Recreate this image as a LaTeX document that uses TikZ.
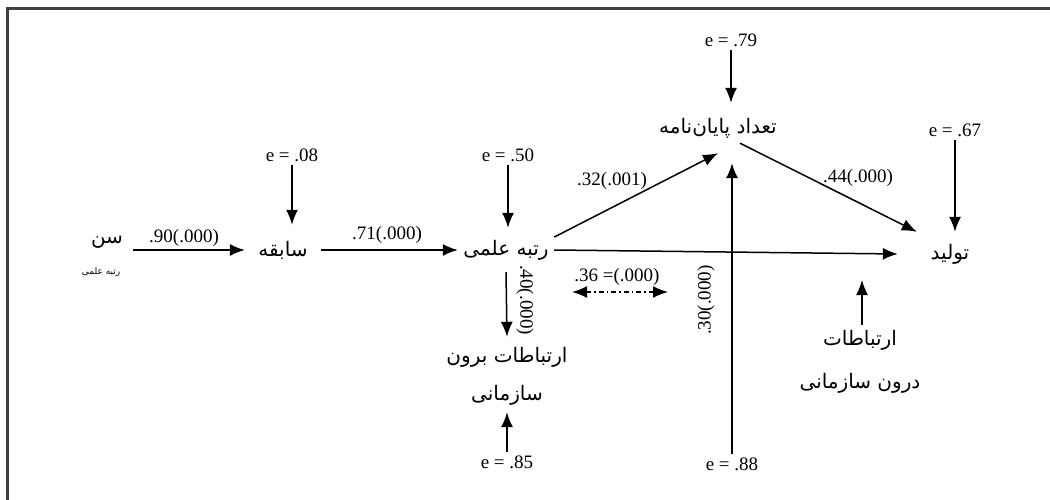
\documentclass[tikz,border=0pt]{standalone}
\usepackage{fontspec}
\setmainfont{Liberation Serif}
\newfontfamily\farsi[Script=Arabic]{DejaVu Sans}
\TeXXeTstate=1
\usetikzlibrary{arrows.meta}

\newcommand{\fa}[1]{\farsi\beginR #1\endR}

\begin{document}
\begin{tikzpicture}[x=1pt,y=-1pt]
\tikzstyle{var}=[inner sep=0pt,font=\fontsize{20}{24}\selectfont];
\tikzstyle{err}=[inner sep=3pt,font=\fontsize{19}{22}\selectfont];
\tikzstyle{coef}=[inner sep=0pt,font=\fontsize{19}{22}\selectfont];
\tikzstyle{arr}=[line width=1.5pt,-{Latex[length=15pt,width=12pt]}];
\useasboundingbox (0,0) rectangle (1050,500);
\draw[line width=3pt,black!75] (1050,9) -- (7,9) -- (7,500);

% variables
\node[var,minimum width=52] (sen) at (107,242) {\fa{سن}};
\node[var,font=\fontsize{9}{11}\selectfont] (senlbl) at (101,272) {\fa{رتبه علمی}};
\node[var,minimum width=76,minimum height=50] (sabeqe) at (283,250) {\fa{سابقه}};
\node[var,minimum width=96,minimum height=44] (rotbe) at (506,250) {\fa{رتبه علمی}};
\node[var,minimum height=50] (tedad) at (718,128) {\fa{تعداد پایان‌نامه}};
\node[var,minimum width=104,minimum height=44] (tolid) at (950,254) {\fa{تولید}};
\node[var,minimum height=40] (boroon1) at (507,357) {\fa{ارتباطات برون}};
\node[var,minimum height=34] (boroon2) at (507,395) {\fa{سازمانی}};
\node[var,minimum height=30] (daroon1) at (860,340) {\fa{ارتباطات}};
\node[var] (daroon2) at (860,383) {\fa{درون سازمانی}};

% errors
\node[err] (e08) at (292,155) {e = .08};
\node[err] (e50) at (508,155) {e = .50};
\node[err] (e79) at (731,40) {e = .79};
\node[err] (e67) at (955,130) {e = .67};
\node[err] (e88) at (732,464) {e = .88};
\node[err] (e85) at (507,462) {e = .85};

% coefficients
\node[coef] (c1) at (184,238) {.90(.000)};
\node[coef] (c2) at (387,235) {.71(.000)};
\node[coef] (c3) at (612,181) {.32(.001)};
\node[coef] (c4) at (858,178) {.44(.000)};
\node[coef] (c5) at (617,277) {.36 =(.000)};
\node[coef,rotate=-90] (c6) at (525,300) {.40(.000)};
\node[coef,rotate=90] (c7) at (706,300) {.30(.000)};

\coordinate (dtip) at (862,280);
\coordinate (cl) at (572,292);
\coordinate (cr) at (668,292);

% paths
\draw[arr] (sen.east |- sabeqe) -- (sabeqe.west);
\draw[arr] (sabeqe.east) -- (rotbe.west);
\draw[arr] (rotbe.15) -- (tedad.south);
\draw[arr] (rotbe.east) -- (tolid.west);
\draw[arr] ([xshift=22pt,yshift=10pt]tedad.south) -- ([xshift=19pt]tolid.north west);
\draw[arr] (e08.south) -- (e08.south |- sabeqe.north);
\draw[arr] (e50.south) -- (e50.south |- rotbe.north);
\draw[arr] (e79.south) -- (e79.south |- tedad.north);
\draw[arr] (e67.south) -- (e67.south |- tolid.north);
\draw[arr,shorten >=10pt] (e88.north) -- (e88.north |- tedad.south);
\draw[arr] (rotbe.south) -- (boroon1.north);
\draw[arr] (e85.north) -- (boroon2.south);
\draw[arr] (daroon1.north -| dtip) -- (dtip);
\draw[line width=1.5pt,{Latex[length=15pt,width=12pt]}-{Latex[length=15pt,width=12pt]},
  dash pattern=on 5pt off 3pt on 1.5pt off 3pt] (cl) -- (cr);
\end{tikzpicture}
\end{document}
